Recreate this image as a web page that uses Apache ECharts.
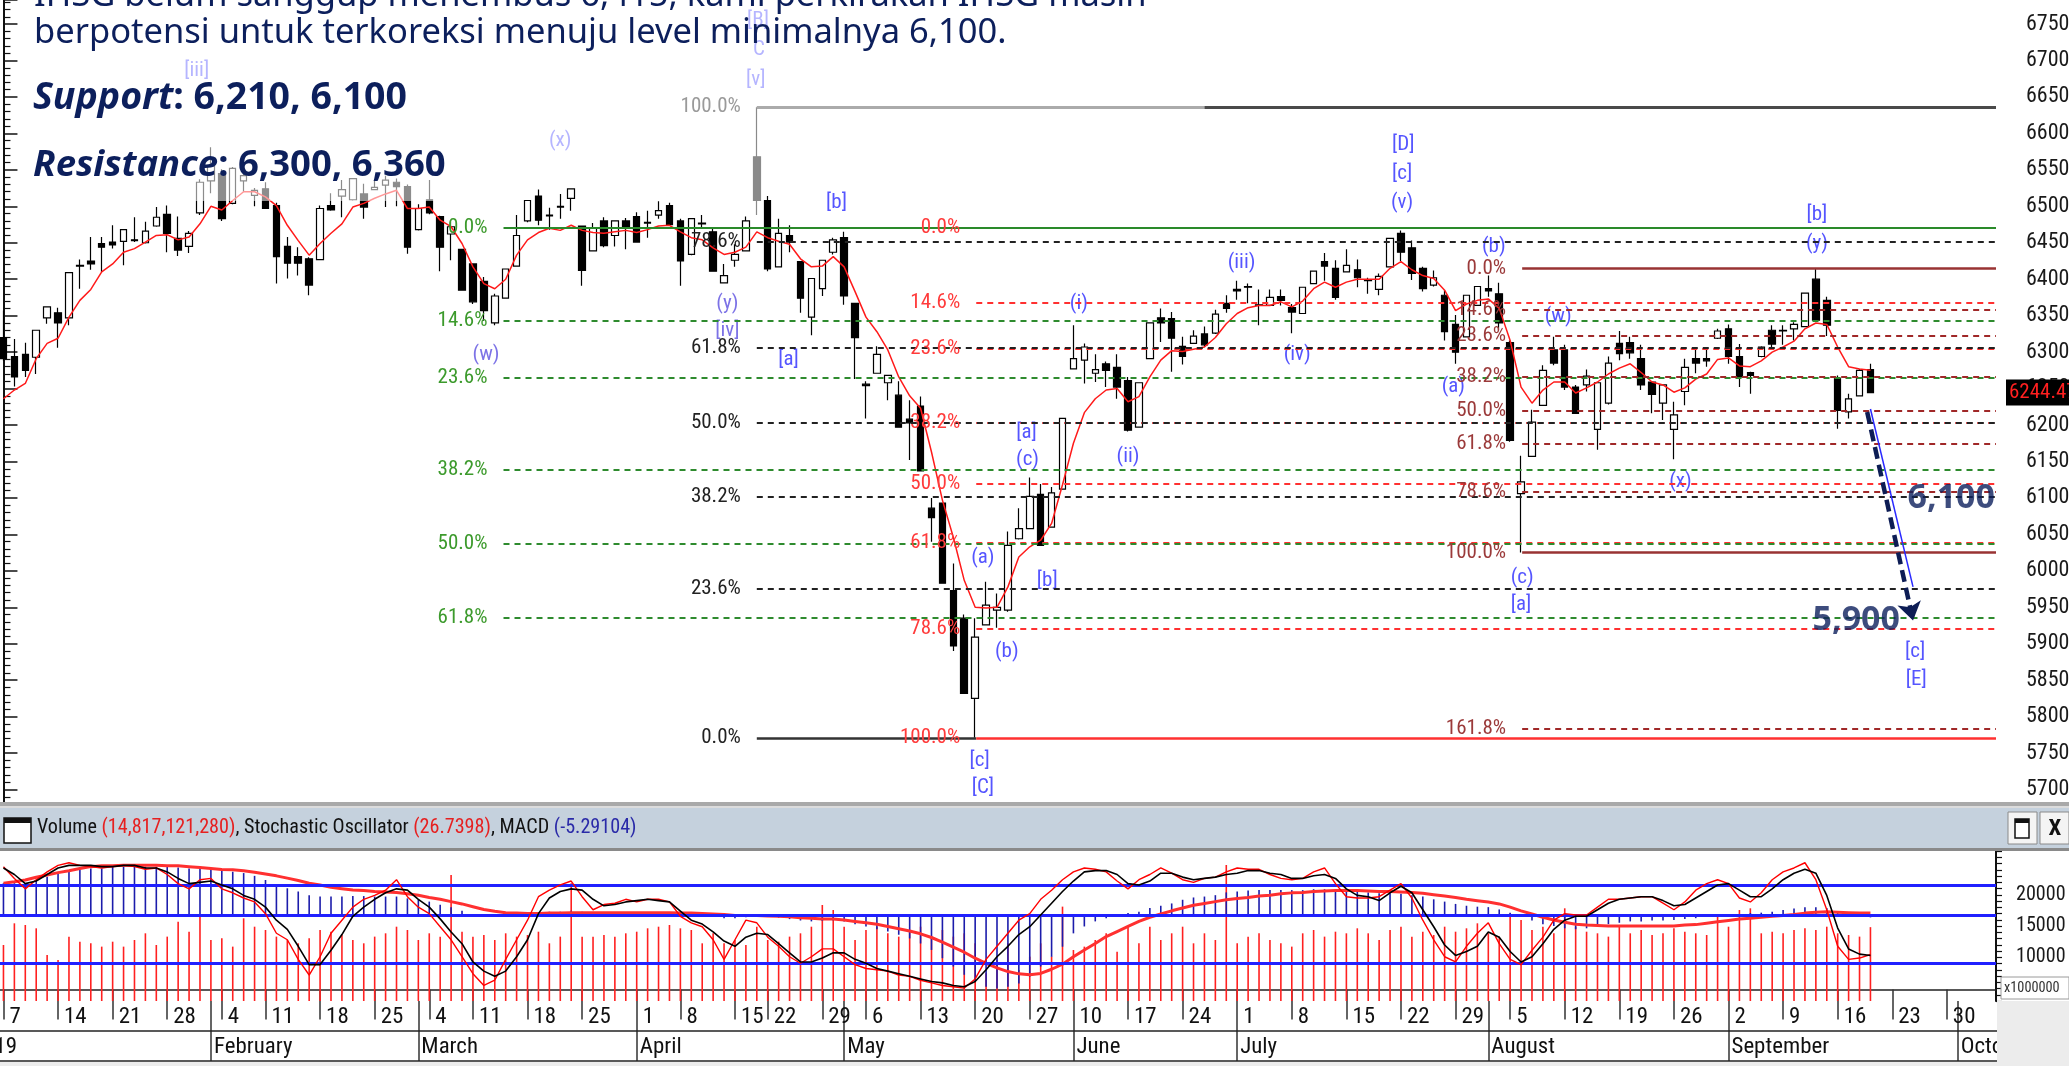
<!DOCTYPE html>
<html>
<head>
<meta charset="utf-8">
<script src="https://cdn.jsdelivr.net/npm/echarts@6/dist/echarts.min.js"></script>
<style>
  html, body { margin: 0; padding: 0; background: #fff; }
  #chart { width: 2069px; height: 1066px; }
</style>
</head>
<body>
<div id="chart"></div>
<script>
const SANS = '"Noto Sans", "Open Sans", sans-serif'
const NAVY = '#0c1f5c'

// trading days shown on the axis (IDX calendar 2019)
const janDays = [7, 8, 9, 10, 11, 14, 15, 16, 17, 18, 21, 22, 23, 24, 25, 28, 29, 30, 31]
const febDays = [1, 4, 6, 7, 8, 11, 12, 13, 14, 15, 18, 19, 20, 21, 22, 25, 26, 27, 28]
const marDays = [1, 4, 5, 6, 8, 11, 12, 13, 14, 15, 18, 19, 20, 21, 22, 25, 26, 27, 28, 29]
const aprDays = [1, 2, 4, 5, 8, 9, 10, 11, 12, 15, 16, 18, 22, 23, 24, 25, 26, 29, 30]
const mayDays = [2, 3, 6, 7, 8, 9, 10, 13, 14, 15, 16, 17, 20, 21, 22, 23, 24, 27, 28, 29, 31]
const junDays = [10, 11, 12, 13, 14, 17, 18, 19, 20, 21, 24, 25, 26, 27, 28]
const julDays = [1, 2, 3, 4, 5, 8, 9, 10, 11, 12, 15, 16, 17, 18, 19, 22, 23, 24, 25, 26, 29, 30, 31]
const augDays = [1, 2, 5, 6, 7, 8, 9, 12, 13, 14, 15, 16, 19, 20, 21, 22, 23, 26, 27, 28, 29, 30]
const sepDays = [2, 3, 4, 5, 6, 9, 10, 11, 12, 13, 16, 17, 18, 19, 20, 23, 24, 25, 26, 27, 30]
const octDays = [1, 2, 3, 4]
const monthNames = ['January', 'February', 'March', 'April', 'May', 'June', 'July', 'August', 'September', 'October']

// daily candles [open, close, low, high]
const ohlc = [
  [6320, 6291, 6288, 6357], [6294, 6266, 6253, 6318], [6297, 6275, 6266, 6313], [6293, 6330, 6270, 6330], [6347, 6362, 6339, 6363],
  [6354, 6340, 6306, 6361], [6347, 6409, 6337, 6409], [6419, 6418, 6387, 6427], [6425, 6421, 6413, 6458], [6449, 6444, 6410, 6458],
  [6451, 6447, 6442, 6474], [6452, 6468, 6419, 6468], [6454, 6453, 6451, 6485], [6450, 6466, 6449, 6479], [6473, 6485, 6472, 6499],
  [6489, 6463, 6437, 6501], [6456, 6440, 6432, 6486], [6445, 6463, 6436, 6466], [6491, 6533, 6488, 6537],
  [6535, 6555, 6518, 6581],
  [6545, 6483, 6480, 6551], [6504, 6552, 6503, 6554], [6535, 6542, 6520, 6560], [6515, 6522, 6500, 6525],
  [6524, 6497, 6497, 6533], [6501, 6431, 6394, 6505], [6445, 6422, 6401, 6458], [6431, 6422, 6405, 6444], [6428, 6392, 6378, 6430],
  [6427, 6497, 6426, 6501], [6501, 6495, 6494, 6518], [6514, 6523, 6485, 6536], [6509, 6538, 6508, 6538], [6517, 6499, 6483, 6531],
  [6523, 6526, 6522, 6536], [6529, 6536, 6499, 6542], [6533, 6527, 6500, 6538], [6527, 6444, 6435, 6530],
  [6468, 6497, 6467, 6503],
  [6509, 6491, 6489, 6536], [6486, 6444, 6411, 6487], [6462, 6472, 6426, 6478], [6441, 6385, 6385, 6441],
  [6421, 6369, 6366, 6422], [6397, 6357, 6343, 6403], [6340, 6377, 6337, 6380], [6374, 6414, 6374, 6414], [6418, 6460, 6418, 6488],
  [6480, 6508, 6478, 6508], [6514, 6481, 6474, 6523], [6488, 6487, 6468, 6498], [6500, 6499, 6483, 6517], [6511, 6524, 6494, 6524],
  [6473, 6412, 6391, 6473], [6439, 6470, 6439, 6477], [6480, 6446, 6444, 6485], [6460, 6480, 6445, 6480], [6480, 6470, 6441, 6484],
  [6486, 6451, 6451, 6492], [6478, 6477, 6457, 6494], [6488, 6494, 6483, 6507], [6501, 6475, 6475, 6505],
  [6480, 6425, 6391, 6483], [6434, 6483, 6433, 6483], [6477, 6476, 6471, 6488], [6465, 6411, 6411, 6471], [6395, 6405, 6395, 6421],
  [6426, 6434, 6417, 6448], [6439, 6480, 6439, 6486], [6568, 6508, 6488, 6636],
  [6508, 6414, 6411, 6514], [6417, 6463, 6417, 6483], [6460, 6451, 6437, 6474], [6424, 6374, 6354, 6424], [6348, 6401, 6323, 6401],
  [6387, 6426, 6377, 6426], [6437, 6454, 6434, 6457],
  [6457, 6377, 6365, 6465], [6367, 6320, 6263, 6367],
  [6256, 6254, 6209, 6260], [6271, 6297, 6271, 6308], [6258, 6268, 6234, 6268], [6241, 6197, 6197, 6260], [6208, 6203, 6152, 6234],
  [6226, 6137, 6137, 6239], [6086, 6073, 6040, 6100], [6093, 5983, 5983, 6093], [5973, 5897, 5890, 6010], [5935, 5832, 5832, 5940],
  [5825, 5909, 5771, 5935], [5926, 5953, 5925, 5985], [5946, 5950, 5922, 5969], [5946, 6035, 5944, 6054], [6044, 6058, 6043, 6086],
  [6058, 6102, 6058, 6128], [6105, 6035, 6035, 6119], [6060, 6107, 6060, 6115], [6112, 6209, 6112, 6209],
  [6277, 6291, 6276, 6337], [6289, 6307, 6257, 6312], [6271, 6276, 6259, 6297], [6284, 6275, 6252, 6287], [6279, 6252, 6236, 6297],
  [6261, 6193, 6191, 6266], [6197, 6258, 6197, 6258], [6291, 6340, 6291, 6340], [6347, 6340, 6314, 6360], [6346, 6319, 6273, 6355],
  [6308, 6294, 6283, 6321], [6312, 6322, 6311, 6330], [6325, 6310, 6307, 6335], [6326, 6352, 6325, 6358], [6367, 6360, 6354, 6378],
  [6386, 6384, 6372, 6398], [6390, 6389, 6367, 6394], [6365, 6364, 6337, 6386], [6364, 6375, 6364, 6386], [6376, 6371, 6364, 6386],
  [6361, 6355, 6326, 6366], [6353, 6389, 6353, 6389], [6394, 6411, 6393, 6411], [6424, 6418, 6398, 6436], [6415, 6375, 6372, 6426],
  [6410, 6419, 6410, 6441], [6413, 6402, 6389, 6427], [6399, 6398, 6380, 6402], [6386, 6404, 6378, 6408], [6417, 6456, 6416, 6456],
  [6463, 6437, 6425, 6467], [6443, 6408, 6399, 6453], [6415, 6387, 6383, 6417], [6392, 6402, 6390, 6412], [6378, 6328, 6316, 6385],
  [6338, 6300, 6284, 6351], [6321, 6378, 6321, 6378], [6364, 6390, 6364, 6390],
  [6387, 6384, 6376, 6405], [6380, 6340, 6330, 6395],
  [6313, 6179, 6177, 6316], [6106, 6122, 6025, 6158], [6157, 6204, 6157, 6221], [6227, 6275, 6227, 6282], [6303, 6285, 6282, 6321],
  [6303, 6252, 6248, 6310], [6252, 6216, 6215, 6255], [6255, 6267, 6246, 6276], [6194, 6258, 6166, 6258], [6230, 6285, 6228, 6294],
  [6312, 6298, 6289, 6329], [6313, 6299, 6291, 6321], [6291, 6255, 6248, 6310], [6259, 6242, 6216, 6260], [6230, 6255, 6207, 6256],
  [6194, 6214, 6153, 6232], [6246, 6279, 6227, 6291], [6291, 6285, 6271, 6306], [6291, 6288, 6280, 6307], [6319, 6329, 6318, 6332],
  [6332, 6294, 6284, 6338], [6294, 6266, 6252, 6311], [6272, 6268, 6243, 6273], [6294, 6307, 6293, 6308], [6330, 6311, 6307, 6337],
  [6330, 6329, 6310, 6337], [6332, 6338, 6316, 6341], [6335, 6381, 6335, 6381], [6400, 6344, 6344, 6415], [6371, 6337, 6322, 6376],
  [6264, 6220, 6195, 6268], [6218, 6236, 6209, 6243], [6240, 6275, 6239, 6277], [6276, 6244.47, 6244, 6284]
]
const greyCandle = 69 // 18 April, drawn grey

// red moving average
const maLine = [
  6236, 6248, 6257, 6291, 6312, 6319, 6348, 6371, 6386, 6410,
  6421, 6437, 6442, 6451, 6460, 6461, 6454, 6458, 6476, 6500,
  6495, 6508, 6520, 6520, 6513, 6501, 6474, 6453, 6433, 6449,
  6463, 6476, 6499, 6504, 6511, 6517, 6522, 6497, 6497, 6499,
  6481, 6472, 6449, 6417, 6394, 6387, 6400, 6433, 6454, 6464,
  6470, 6467, 6474, 6467, 6464, 6463, 6465, 6467, 6464, 6468,
  6473, 6474, 6465, 6457, 6454, 6443, 6434, 6437, 6444, 6465,
  6457, 6452, 6448, 6428, 6417, 6418, 6431, 6417, 6383, 6348,
  6328, 6303, 6266, 6240, 6223, 6163, 6097, 6046, 5987, 5950,
  5949, 5950, 5978, 6019, 6033, 6042, 6065, 6118, 6175, 6217,
  6236, 6248, 6250, 6232, 6239, 6266, 6289, 6302, 6301, 6304,
  6307, 6320, 6339, 6353, 6361, 6364, 6364, 6369, 6362, 6370,
  6387, 6396, 6389, 6396, 6400, 6400, 6400, 6415, 6424, 6413,
  6405, 6401, 6385, 6357, 6366, 6371, 6373, 6360, 6316, 6252,
  6230, 6248, 6259, 6259, 6244, 6251, 6259, 6270, 6278, 6284,
  6272, 6259, 6255, 6245, 6251, 6263, 6270, 6290, 6292, 6281,
  6280, 6288, 6300, 6307, 6315, 6332, 6340, 6338, 6307, 6280,
  6277, 6275
]

// volume (x1,000,000 shares)
const volume = [
  11960, 15430, 15160, 14630, 10360, 9560, 13300, 12490, 12230, 11700,
  12490, 11700, 12760, 13830, 11960, 13300, 15700, 14090, 16500, 12760,
  13030, 11700, 16230, 14890, 14360, 13300, 12760, 12230, 13030, 14360,
  14090, 13560, 12760, 12230, 13300, 13830, 14890, 14360, 12760, 13830,
  13300, 23160, 14090, 13300, 13560, 12760, 13830, 13300, 13560, 14090,
  12230, 13300, 21830, 13300, 13300, 13560, 13300, 13830, 14090, 14630,
  14890, 15160, 14630, 14360, 12230, 13830, 12230, 12760, 11960, 14890,
  12760, 12490, 13300, 13830, 14890, 18360, 17560, 14890, 12760, 14360,
  14890, 13830, 13300, 14090, 14890, 13300, 14360, 13300, 13830, 12230,
  7430, 9560, 12230, 7960, 10100, 12230, 10100, 18100, 11160, 11700,
  12760, 13830, 10900, 14890, 12230, 14890, 12760, 13830, 14890, 12230,
  13830, 12760, 24760, 12230, 13300, 13830, 12760, 12230, 11700, 13830,
  14360, 13300, 14090, 13830, 14630, 13830, 12760, 14360, 14890, 13300,
  14090, 13560, 14890, 14090, 14630, 15430, 13830, 13300, 17030, 15960,
  14360, 14890, 13830, 17830, 14890, 14090, 13830, 13300, 14890, 13830,
  14360, 13560, 13830, 14630, 14090, 13830, 13560, 16500, 14890, 17560,
  17830, 13830, 14090, 13830, 14360, 14630, 14360, 14890, 13830, 13560,
  13300, 14817
]

// stochastic %K (red) and %D (black)
const stochK = [
  94, 85, 77, 84, 90, 95, 97, 95, 94, 93,
  94, 95, 94, 92, 93, 88, 81, 77, 84, 85,
  77, 74, 70, 67, 58, 43, 38, 23, 11, 25,
  43, 53, 63, 69, 72, 76, 84, 71, 63, 58,
  48, 38, 25, 12, 3, 7, 23, 38, 53, 71,
  76, 80, 83, 71, 61, 65, 66, 69, 67, 69,
  69, 67, 56, 51, 48, 38, 23, 38, 53, 51,
  40, 33, 25, 20, 25, 31, 31, 25, 19, 16,
  15, 14, 11, 10, 7, 5, 3, 2, 1, 8,
  23, 33, 43, 53, 58, 69, 76, 84, 90, 93,
  92, 90, 83, 77, 84, 88, 93, 89, 84, 82,
  85, 86, 90, 93, 92, 92, 88, 85, 84, 85,
  90, 93, 81, 71, 70, 70, 71, 76, 81, 70,
  53, 38, 25, 21, 33, 43, 51, 35, 23, 19,
  30, 40, 53, 58, 57, 57, 63, 69, 69, 70,
  71, 71, 66, 61, 67, 76, 81, 84, 81, 70,
  67, 74, 84, 90, 93, 97, 84, 61, 33, 23,
  24, 26.74
]
const stochD = [
  93, 88, 81, 83, 88, 93, 95, 95, 95, 94,
  94, 95, 95, 93, 93, 90, 85, 81, 82, 83,
  80, 77, 72, 69, 63, 53, 46, 33, 19, 19,
  30, 42, 56, 63, 69, 74, 77, 76, 69, 63,
  54, 44, 35, 21, 14, 10, 14, 25, 38, 58,
  70, 75, 77, 76, 69, 64, 65, 67, 68, 69,
  68, 67, 60, 53, 50, 44, 37, 33, 40, 43,
  42, 35, 28, 21, 21, 24, 28, 28, 23, 20,
  16, 14, 12, 10, 8, 6, 5, 3, 2, 6,
  15, 25, 33, 42, 48, 57, 66, 75, 83, 90,
  91, 91, 88, 81, 80, 83, 89, 89, 86, 84,
  85, 86, 88, 89, 91, 91, 89, 88, 85, 85,
  87, 88, 85, 77, 72, 71, 68, 74, 79, 74,
  61, 48, 34, 26, 29, 33, 44, 40, 29, 21,
  25, 35, 46, 53, 56, 56, 61, 66, 69, 70,
  71, 71, 68, 64, 65, 70, 75, 80, 81, 76,
  71, 71, 77, 84, 89, 92, 89, 72, 47, 31,
  27, 26
]

// MACD (blue bars) and its signal (thick red)
const macd = [
  69, 69, 69, 76, 83, 89, 94, 98, 101, 101,
  105, 105, 105, 105, 105, 105, 103, 101, 101, 99,
  96, 94, 91, 85, 76, 65, 58, 51, 43, 40,
  40, 40, 41, 41, 40, 40, 40, 36, 33, 29,
  22, 17, 9, 2, -2, -4, -4, -2, 2, 5,
  7, 7, 9, 7, 5, 5, 5, 5, 4, 4,
  4, 4, 2, 1, -1, -4, -7, -7, -5, -2,
  -4, -6, -9, -12, -14, -13, -12, -14, -20, -25,
  -31, -36, -43, -51, -62, -76, -94, -112, -130, -145,
  -156, -160, -156, -149, -134, -112, -91, -69, -40, -25,
  -14, -7, -4, 4, 7, 15, 20, 25, 33, 38,
  40, 43, 49, 51, 53, 54, 54, 54, 54, 54,
  56, 56, 54, 53, 51, 49, 47, 47, 46, 43,
  40, 34, 29, 24, 20, 18, 17, 12, 5, -4,
  -12, -20, -24, -29, -31, -29, -24, -20, -17, -14,
  -14, -12, -12, -11, -9, -7, -4, 0, 2, 2,
  4, 5, 7, 11, 14, 17, 17, 15, 7, 2,
  -2, -5.29
]
const macdSignal = [
  69, 72, 76, 82, 87, 92, 96, 101, 105, 107,
  107, 108, 108, 108, 108, 107, 107, 105, 103, 101,
  99, 98, 96, 93, 89, 85, 80, 75, 69, 65,
  60, 57, 54, 53, 51, 50, 49, 46, 43, 38,
  34, 29, 24, 18, 12, 8, 5, 4, 3, 3,
  4, 4, 5, 5, 5, 5, 5, 5, 5, 5,
  5, 5, 4, 4, 3, 2, 1, -1, -1, -1,
  -2, -3, -4, -6, -7, -9, -9, -11, -14, -17,
  -20, -25, -30, -35, -41, -49, -59, -70, -81, -94,
  -105, -115, -123, -128, -130, -127, -118, -107, -91, -76,
  -62, -47, -36, -25, -14, -5, 2, 9, 15, 21,
  25, 29, 33, 36, 38, 41, 43, 46, 48, 49,
  51, 52, 53, 53, 53, 52, 51, 51, 50, 49,
  47, 44, 41, 38, 34, 31, 28, 24, 17, 9,
  2, -5, -11, -16, -20, -22, -23, -24, -24, -24,
  -24, -24, -24, -24, -22, -21, -18, -15, -12, -9,
  -7, -5, -3, -1, 1, 4, 6, 7, 6, 5,
  4, 4
]

// fibonacci levels (value, label)
const greenLevels = [6470, 6343, 6265, 6139, 6037, 5935]
const greenLabels = ['0.0%', '14.6%', '23.6%', '38.2%', '50.0%', '61.8%']
const blackLevels = [6451, 6306, 6203, 6101, 5975]
const blackLabels = ['78.6%', '61.8%', '50.0%', '38.2%', '23.6%']
const redLevels = [6470, 6368, 6305, 6203, 6120, 6038, 5920]
const redLabels = ['0.0%', '14.6%', '23.6%', '38.2%', '50.0%', '61.8%', '78.6%']
const brownLevels = [6358, 6323, 6266, 6220, 6174, 6108, 5784]
const brownLabels = ['14.6%', '23.6%', '38.2%', '50.0%', '61.8%', '78.6%', '161.8%']
const fibStart = { green: 45.8, black: 69, red: 89.1, brown: 139.1 }

// Elliott wave labels: [day index, level, text, tone]
const waveIdx = [17.7, 69.1, 69.2, 68.9, 51.0, 44.2, 66.3, 66.3, 71.9, 76.3, 89.7, 91.9, 93.7, 93.8, 95.6, 103.0, 89.4, 89.7,
  98.5, 113.4, 118.5, 128.2, 128.1, 128.1, 136.5, 132.8, 142.4, 153.6, 166.1, 166.1, 139.1, 139.0, 175.1, 175.2]
const waveVal = [6686, 6754, 6715, 6673, 6590, 6296, 6366, 6329, 6290, 6505, 6018, 5889, 6190, 6153, 5987, 6156, 5740, 5703,
  6367, 6423, 6296, 6584, 6545, 6505, 6444, 6252, 6348, 6122, 6488, 6448, 5991, 5953, 5889, 5850]
const waveText = ['[iii]', '[B]', 'C', '[v]', '(x)', '(w)', '(y)', '[iv]', '[a]', '[b]', '(a)', '(b)', '[a]', '(c)', '[b]', '(ii)', '[c]', '[C]',
  '(i)', '(iii)', '(iv)', '[D]', '[c]', '(v)', '(b)', '(a)', '(w)', '(x)', '[b]', '(y)', '(c)', '[a]', '[c]', '[E]']
const waveTone = ['old', 'old', 'old', 'old', 'old', 'mid', 'mid', 'mid']
const toneColor = { old: '#a3a3ff', mid: '#5b4fe0', main: '#2b2bff' }

const targetText = ['6,100', '5,900']
const targetIdx = [178.4, 169.7]
const targetVal = [6100, 5932]

// ---- pick a condensed face like the original's Arial Narrow ----
const probeCtx = document.createElement('canvas').getContext('2d')
function textWidth (font, s) { probeCtx.font = font; return probeCtx.measureText(s).width }
function hasFont (name) {
  const s = 'February 0123456789 Stochastic'
  return Math.abs(textWidth('40px monospace', s) - textWidth('40px "' + name + '", monospace', s)) > 0.5
}
const narrowFace = ['Liberation Sans Narrow', 'Arial Narrow', 'Roboto Condensed', 'Noto Sans Condensed', 'DejaVu Sans Condensed'].find(hasFont)
const NARROW = '"' + (narrowFace || 'Liberation Sans') + '", sans-serif'
// scale so that widths follow Arial Narrow metrics ("February" at 24px is about 78.7px)
const K = Math.max(0.7, Math.min(1.2, 78.7 / textWidth('24px ' + NARROW, 'February')))
const fs = n => Math.round(n * K * 10) / 10
const nfont = n => fs(n) + 'px ' + NARROW
const headerSize = 21 * 600 / textWidth('21px ' + NARROW, 'Volume (14,817,121,280), Stochastic Oscillator (26.7398), MACD (-5.29104)')

// ---- build categories ----
const monthDays = [janDays, febDays, marDays, aprDays, mayDays, junDays, julDays, augDays, sepDays, octDays]
const pad = n => (n < 10 ? '0' : '') + n
const dates = []
const monthStart = {}
monthDays.forEach((days, m) => {
  days.forEach((d, k) => {
    const key = '2019-' + pad(m + 1) + '-' + pad(d)
    if (k === 0 && m > 0) monthStart[key] = monthNames[m]
    dates.push(key)
  })
})
const isMonday = v => new Date(v + 'T12:00:00').getDay() === 1

const candleData = ohlc.map((v, i) => i === greyCandle
  ? { value: v, itemStyle: { color: '#8a8a8a', color0: '#8a8a8a', borderColor: '#8a8a8a', borderColor0: '#8a8a8a' } }
  : v)

// ---- fib lines as markLines in data space ----
const END = 182.5
function fibLine (x0, val, text, color, labelColor, type, width, x1) {
  return [{
    coord: [x0, val],
    lineStyle: { color: color, type: type, width: width },
    label: { show: !!text, formatter: text || '', position: 'start', distance: 16, color: labelColor, fontSize: fs(22), fontFamily: NARROW }
  }, { coord: [x1 === undefined ? END : x1, val] }]
}
const DASH = [6, 5]
const fibLines = []
fibLines.push(fibLine(fibStart.red, 6470, '0.0%', '#ff3030', '#ff3b3b', DASH, 2))
redLevels.slice(1).forEach((v, i) => fibLines.push(fibLine(fibStart.red, v, redLabels[i + 1], '#ff3030', '#ff3b3b', DASH, 2)))
greenLevels.slice(1).forEach((v, i) => fibLines.push(fibLine(fibStart.green, v, greenLabels[i + 1], '#2e8b2e', '#3c9a2c', DASH, 2)))
fibLines.push(fibLine(fibStart.green, greenLevels[0], greenLabels[0], '#2a8a2a', '#3c9a2c', 'solid', 2.2))
blackLevels.forEach((v, i) => fibLines.push(fibLine(fibStart.black, v, blackLabels[i], '#222', '#222', DASH, 2)))
fibLines.push(fibLine(fibStart.black, 6636, '100.0%', '#ababab', '#9a9a9a', 'solid', 3, 110))
fibLines.push(fibLine(110, 6636, '', '#4a4a4a', '#4a4a4a', 'solid', 3))
fibLines.push(fibLine(fibStart.black, 5771, '0.0%', '#333', '#222', 'solid', 2.5, fibStart.red))
fibLines.push(fibLine(fibStart.red, 5771, '100.0%', '#ff3030', '#ff3b3b', 'solid', 2.5))
brownLevels.forEach((v, i) => fibLines.push(fibLine(fibStart.brown, v, brownLabels[i], '#a02828', '#9b3a3a', DASH, 2)))
fibLines.push(fibLine(fibStart.brown, 6415, '0.0%', '#993333', '#9b3a3a', 'solid', 2.5))
fibLines.push(fibLine(fibStart.brown, 6025, '100.0%', '#993333', '#9b3a3a', 'solid', 2.5))
// forecast arrow
fibLines.push([{ coord: [171.0, 6222], symbol: 'none', lineStyle: { color: '#2a2aff', width: 1.5, type: 'solid' }, label: { show: false } },
  { coord: [174.9, 5978], symbol: 'none' }])
fibLines.push([{ coord: [170.7, 6218], symbol: 'none', lineStyle: { color: '#0d1d55', width: 4.5, type: [12, 6] }, label: { show: false } },
  { coord: [174.9, 5932], symbol: 'arrow', symbolSize: 18 }])
// last price tag
fibLines.push({
  yAxis: 6244.47, lineStyle: { color: 'rgba(0,0,0,0)', width: 0, opacity: 1 },
  label: { show: true, position: 'end', distance: 10, formatter: '6244.47', color: '#ff2020', backgroundColor: '#000', padding: [3, 3, 2, 3], fontSize: fs(22), fontFamily: NARROW, opacity: 1 }
})

const waveData = waveText.map((t, i) => ({
  name: t,
  value: [waveIdx[i], waveVal[i]],
  label: { color: toneColor[waveTone[i] || 'main'] }
}))
const targetData = targetText.map((t, i) => ({ name: t, value: [targetIdx[i], targetVal[i]] }))

const chart = echarts.init(document.getElementById('chart'))
const option = {
  animation: false,
  backgroundColor: '#fff',
  grid: [
    { left: -2, right: 73, top: 0, height: 826, outerBoundsMode: 'none', containLabel: false },
    { left: -2, right: 73, top: 851, height: 150, outerBoundsMode: 'none', containLabel: false },
    { left: -2, right: 73, top: 851, height: 150, outerBoundsMode: 'none', containLabel: false }
  ],
  xAxis: [
    { type: 'category', gridIndex: 0, data: dates, show: false },
    {
      type: 'category', gridIndex: 1, data: dates, position: 'bottom',
      axisLine: { show: true, lineStyle: { color: '#222', width: 1.5 } },
      axisTick: { show: true, alignWithLabel: true, length: 30, interval: (i, v) => isMonday(v), lineStyle: { color: '#333', width: 1.5 } },
      axisLabel: {
        show: true, interval: (i, v) => isMonday(v), formatter: v => String(Number(v.slice(8))),
        align: 'left', verticalAlign: 'middle', padding: [0, 0, 0, 6], margin: 16, hideOverlap: false,
        fontSize: fs(24), fontFamily: NARROW, color: '#111'
      },
      splitLine: { show: false }
    },
    {
      type: 'category', gridIndex: 2, data: dates, position: 'bottom',
      axisLine: { show: false },
      axisTick: { show: true, alignWithLabel: true, length: 60, interval: (i, v) => !!monthStart[v], lineStyle: { color: '#333', width: 1.5 } },
      axisLabel: {
        show: true, interval: (i, v) => !!monthStart[v], formatter: v => monthStart[v] || '',
        align: 'left', verticalAlign: 'middle', padding: [0, 0, 0, 3], margin: 46, hideOverlap: false,
        fontSize: fs(24), fontFamily: NARROW, color: '#111'
      },
      splitLine: { show: false }
    },
    { type: 'value', gridIndex: 0, min: -0.5, max: 182.5, show: false }
  ],
  yAxis: [
    {
      type: 'value', gridIndex: 0, position: 'right', min: 5650, max: 6783, interval: 50,
      axisLine: { show: true, lineStyle: { color: '#111', width: 2 } },
      axisTick: { show: true, inside: false, length: 14, lineStyle: { color: '#111', width: 1.5 } },
      minorTick: { show: true, splitNumber: 5, length: 7, lineStyle: { color: '#111', width: 1.2 } },
      axisLabel: { show: true, margin: 30, formatter: v => String(v), fontSize: fs(23), fontFamily: NARROW, color: '#1a1a1a', showMaxLabel: false },
      splitLine: { show: false }
    },
    {
      type: 'value', gridIndex: 1, position: 'right', min: 3000, max: 27000, interval: 1000,
      axisLine: { show: true, lineStyle: { color: '#111', width: 2 } },
      axisTick: { show: true, length: 6, lineStyle: { color: '#111', width: 1.2 } },
      axisLabel: {
        show: true, margin: 20, fontSize: fs(21), fontFamily: NARROW, color: '#1a1a1a',
        formatter: v => (v === 10000 || v === 15000 || v === 20000) ? String(v) : ''
      },
      splitLine: { show: false }
    },
    { type: 'value', gridIndex: 1, min: -8.9, max: 106, show: false },
    { type: 'value', gridIndex: 1, min: -187, max: 139, show: false },
    { type: 'value', gridIndex: 2, show: false }
  ],
  series: [
    {
      type: 'candlestick', xAxisIndex: 0, yAxisIndex: 0, data: candleData, barWidth: 7, z: 2,
      itemStyle: { color: '#fff', color0: '#000', borderColor: '#000', borderColor0: '#000', borderWidth: 1.2 }
    },
    {
      type: 'line', xAxisIndex: 0, yAxisIndex: 0, data: maLine, symbol: 'none', z: 3,
      lineStyle: { color: '#ff1a1a', width: 1.5 }
    },
    {
      type: 'scatter', xAxisIndex: 3, yAxisIndex: 0, data: waveData, symbolSize: 0, z: 4, clip: false,
      label: { show: true, position: 'inside', formatter: '{b}', fontSize: fs(22), fontFamily: NARROW },
      markLine: { silent: true, symbol: ['none', 'none'], animation: false, precision: 2, data: fibLines }
    },
    {
      type: 'scatter', xAxisIndex: 3, yAxisIndex: 0, data: targetData, symbolSize: 0, z: 5,
      label: { show: true, position: 'inside', formatter: '{b}', fontSize: 34, fontWeight: 'bold', fontFamily: SANS, color: NAVY }
    },
    {
      type: 'bar', xAxisIndex: 1, yAxisIndex: 1, data: volume, barWidth: 1.6, barGap: '-100%', z: 2,
      itemStyle: { color: '#ff2020' }
    },
    {
      type: 'bar', xAxisIndex: 1, yAxisIndex: 3, data: macd, barWidth: 1.6, barGap: '-100%', z: 3,
      itemStyle: { color: '#1c1cab' }
    },
    {
      type: 'line', xAxisIndex: 1, yAxisIndex: 3, data: macdSignal, symbol: 'none', z: 4,
      lineStyle: { color: '#ff3030', width: 3 },
      markLine: {
        silent: true, symbol: ['none', 'none'], animation: false, label: { show: false },
        lineStyle: { color: '#2020ff', width: 3, type: 'solid' }, data: [{ yAxis: 0 }]
      }
    },
    {
      type: 'line', xAxisIndex: 1, yAxisIndex: 2, data: stochK, symbol: 'none', z: 5,
      lineStyle: { color: '#ff0000', width: 1.4 },
      markLine: {
        silent: true, symbol: ['none', 'none'], animation: false, label: { show: false },
        lineStyle: { color: '#2020ff', width: 3, type: 'solid' }, data: [{ yAxis: 80 }, { yAxis: 20 }]
      }
    },
    {
      type: 'line', xAxisIndex: 1, yAxisIndex: 2, data: stochD, symbol: 'none', z: 6,
      lineStyle: { color: '#000', width: 1.6 }
    }
  ],
  graphic: [
    { type: 'rect', z: 20, shape: { x: 30, y: 141, width: 440, height: 60 }, style: { fill: 'rgba(255,255,255,0.55)' } },
    { type: 'text', z: 22, style: { text: 'IHSG belum sanggup menembus 6,415, kami perkirakan IHSG masih', x: 34, y: -4, verticalAlign: 'middle', font: '34.5px ' + SANS, fill: NAVY } },
    { type: 'text', z: 22, style: { text: 'berpotensi untuk terkoreksi menuju level minimalnya 6,100.', x: 34, y: 33, verticalAlign: 'middle', font: '34.5px ' + SANS, fill: NAVY } },
    {
      type: 'text', z: 22,
      style: {
        text: '{a|Support}{b|: 6,210, 6,100}', x: 33, y: 98, verticalAlign: 'middle',
        rich: {
          a: { fontSize: 37.5, fontWeight: 'bold', fontStyle: 'italic', fontFamily: SANS, fill: NAVY, color: NAVY },
          b: { fontSize: 37.5, fontWeight: 'bold', fontFamily: SANS, fill: NAVY, color: NAVY }
        }
      }
    },
    {
      type: 'text', z: 22,
      style: {
        text: '{a|Resistance}{b|: 6,300, 6,360}', x: 33, y: 166, verticalAlign: 'middle',
        rich: {
          a: { fontSize: 36.5, fontWeight: 'bold', fontStyle: 'italic', fontFamily: SANS, fill: NAVY, color: NAVY },
          b: { fontSize: 36.5, fontWeight: 'bold', fontFamily: SANS, fill: NAVY, color: NAVY }
        }
      }
    },
    // indicator window header
    { type: 'rect', z: 30, shape: { x: 0, y: 802, width: 2069, height: 4 }, style: { fill: '#a9a9a9' } },
    { type: 'rect', z: 30, shape: { x: 0, y: 806, width: 2069, height: 2 }, style: { fill: '#dcdcdc' } },
    { type: 'rect', z: 30, shape: { x: 0, y: 808, width: 2069, height: 40 }, style: { fill: '#c5d1dd' } },
    { type: 'rect', z: 30, shape: { x: 0, y: 848, width: 2069, height: 3 }, style: { fill: '#8a8a8a' } },
    { type: 'rect', z: 31, shape: { x: 4, y: 818, width: 27, height: 25 }, style: { fill: '#fff', stroke: '#111', lineWidth: 1.5 } },
    { type: 'rect', z: 32, shape: { x: 4, y: 818, width: 27, height: 5 }, style: { fill: '#111' } },
    {
      type: 'text', z: 32,
      style: {
        text: '{k|Volume }{r|(14,817,121,280)}{k|, Stochastic Oscillator }{r|(26.7398)}{k|, MACD }{b|(-5.29104)}',
        x: 37, y: 828, verticalAlign: 'middle',
        rich: {
          k: { fontSize: headerSize, fontFamily: NARROW, fill: '#111', color: '#111' },
          r: { fontSize: headerSize, fontFamily: NARROW, fill: '#e62020', color: '#e62020' },
          b: { fontSize: headerSize, fontFamily: NARROW, fill: '#2a2aa8', color: '#2a2aa8' }
        }
      }
    },
    { type: 'rect', z: 31, shape: { x: 2008, y: 812, width: 29, height: 32 }, style: { fill: '#f4f4f4', stroke: '#8a8a8a', lineWidth: 1 } },
    { type: 'rect', z: 32, shape: { x: 2015, y: 819, width: 14, height: 19 }, style: { fill: '#fff', stroke: '#111', lineWidth: 1.5 } },
    { type: 'rect', z: 33, shape: { x: 2015, y: 819, width: 14, height: 4 }, style: { fill: '#111' } },
    { type: 'rect', z: 31, shape: { x: 2040, y: 812, width: 29, height: 32 }, style: { fill: '#f4f4f4', stroke: '#8a8a8a', lineWidth: 1 } },
    { type: 'text', z: 32, style: { text: 'X', x: 2055, y: 829, align: 'center', verticalAlign: 'middle', font: 'bold ' + nfont(24), fill: '#111' } },
    // scale box and date rows
    { type: 'rect', z: 30, shape: { x: 2001, y: 977, width: 68, height: 22 }, style: { fill: '#fff', stroke: '#9a9a9a', lineWidth: 1 } },
    { type: 'text', z: 31, style: { text: 'x1000000', x: 2004, y: 988, verticalAlign: 'middle', font: nfont(15), fill: '#333' } },
    { type: 'line', z: 30, shape: { x1: 0, y1: 1031, x2: 1997, y2: 1031 }, style: { stroke: '#222', lineWidth: 1.5 } },
    { type: 'line', z: 30, shape: { x1: 0, y1: 1061, x2: 1997, y2: 1061 }, style: { stroke: '#222', lineWidth: 1.5 } },
    { type: 'rect', z: 30, shape: { x: 1997, y: 1001, width: 72, height: 65 }, style: { fill: '#ececec' } },
    { type: 'rect', z: 30, shape: { x: 0, y: 1062, width: 2069, height: 4 }, style: { fill: '#ececec' } },
    { type: 'text', z: 31, style: { text: '2019', x: 17, y: 1047, align: 'right', verticalAlign: 'middle', font: nfont(24), fill: '#111' } }
  ]
}
chart.setOption(option)
</script>
</body>
</html>
